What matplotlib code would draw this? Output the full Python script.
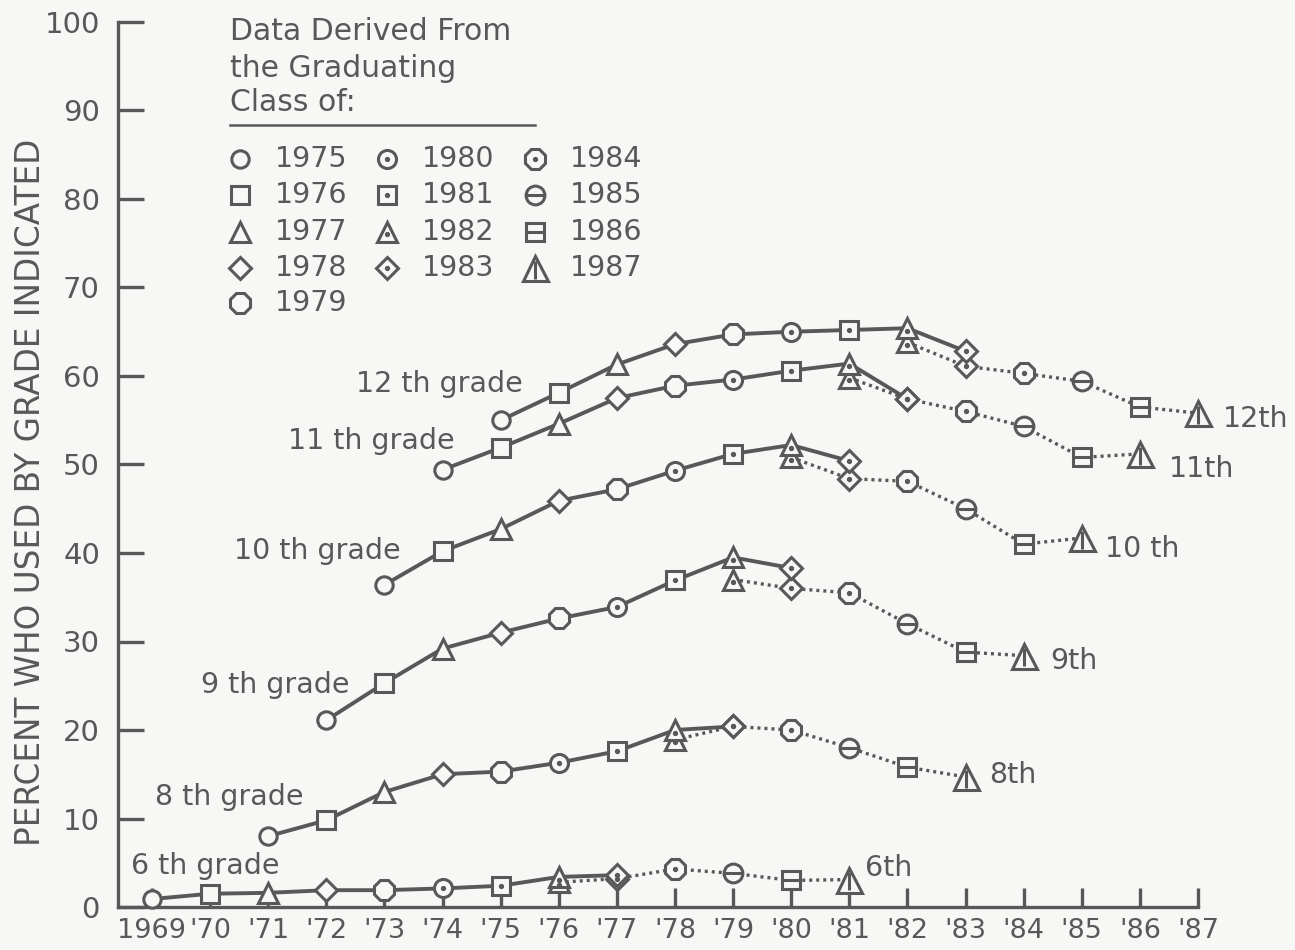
import matplotlib.pyplot as plt

# grade-by-year values; solid = earlier series, dotted = later series
years_12_solid = [1975, 1976, 1977, 1978, 1979, 1980, 1981, 1982, 1983]
grade_12_solid = [55.0, 58.1, 61.3, 63.6, 64.7, 65.0, 65.2, 65.4, 62.8]
years_12_dotted = [1982, 1983, 1984, 1985, 1986, 1987]
grade_12_dotted = [63.8, 61.1, 60.3, 59.4, 56.5, 55.8]

years_11_solid = [1974, 1975, 1976, 1977, 1978, 1979, 1980, 1981, 1982]
grade_11_solid = [49.4, 51.9, 54.6, 57.5, 58.9, 59.6, 60.6, 61.4, 57.4]
years_11_dotted = [1981, 1982, 1983, 1984, 1985, 1986]
grade_11_dotted = [59.8, 57.4, 56.0, 54.3, 50.8, 51.2]

years_10_solid = [1973, 1974, 1975, 1976, 1977, 1978, 1979, 1980, 1981]
grade_10_solid = [36.4, 40.2, 42.7, 45.9, 47.2, 49.3, 51.2, 52.2, 50.4]
years_10_dotted = [1980, 1981, 1982, 1983, 1984, 1985]
grade_10_dotted = [50.8, 48.4, 48.1, 45.0, 41.0, 41.7]

years_9_solid = [1972, 1973, 1974, 1975, 1976, 1977, 1978, 1979, 1980]
grade_9_solid = [21.1, 25.3, 29.2, 31.0, 32.6, 33.9, 36.9, 39.5, 38.3]
years_9_dotted = [1979, 1980, 1981, 1982, 1983, 1984]
grade_9_dotted = [37.0, 36.0, 35.5, 32.0, 28.8, 28.4]

years_8_solid = [1971, 1972, 1973, 1974, 1975, 1976, 1977, 1978, 1979]
grade_8_solid = [8.0, 9.8, 13.0, 15.0, 15.3, 16.3, 17.6, 20.0, 20.4]
years_8_dotted = [1978, 1979, 1980, 1981, 1982, 1983]
grade_8_dotted = [18.9, 20.4, 20.0, 18.0, 15.8, 14.7]

years_6_solid = [1969, 1970, 1971, 1972, 1973, 1974, 1975, 1976, 1977]
grade_6_solid = [0.9, 1.5, 1.6, 1.9, 1.9, 2.1, 2.4, 3.4, 3.6]
years_6_dotted = [1976, 1977, 1978, 1979, 1980, 1981]
grade_6_dotted = [2.8, 3.2, 4.3, 3.8, 3.0, 3.1]

classes = [1975, 1976, 1977, 1978, 1979, 1980, 1981, 1982, 1983,
           1984, 1985, 1986, 1987]

x_ticks = list(range(1969, 1988))
x_labels = ['1969', "'70", "'71", "'72", "'73", "'74", "'75", "'76", "'77",
            "'78", "'79", "'80", "'81", "'82", "'83", "'84", "'85", "'86", "'87"]

INK = '#585858'
BG = '#f7f7f5'

# marker shape, size, inner mark for each graduating class
styles = {
    1975: ('o', 12.5, None),
    1976: ('s', 12.5, None),
    1977: ('^', 15, None),
    1978: ('D', 11.5, None),
    1979: ('8', 16, None),
    1980: ('o', 13, 'dot'),
    1981: ('s', 12.5, 'dot'),
    1982: ('^', 15, 'dot'),
    1983: ('D', 11.5, 'dot'),
    1984: ('8', 16, 'dot'),
    1985: ('o', 13.5, 'hline'),
    1986: ('s', 13.5, 'hline'),
    1987: ('^', 18, 'vline'),
}

plt.rcParams['font.family'] = ['DejaVu Sans']

fig = plt.figure(figsize=(12.95, 9.5), dpi=100, facecolor=BG)
ax = fig.add_axes([118 / 1295, 43 / 950, 1080 / 1295, 885 / 950])
ax.set_facecolor(BG)


def draw_marker(x, y, cls):
    m, ms, inner = styles[cls]
    ax.plot([x], [y], marker=m, ms=ms, mfc=BG, mec=INK, mew=2.2,
            linestyle='none', zorder=4, clip_on=False)
    if inner == 'dot':
        ax.plot([x], [y - (0.3 if m == '^' else 0)], marker='o', ms=2.8,
                color=INK, linestyle='none', zorder=5, clip_on=False)
    elif inner == 'hline':
        ax.plot([x], [y], marker='_', ms=ms * 0.95, mew=2.2, color=INK,
                linestyle='none', zorder=5, clip_on=False)
    elif inner == 'vline':
        ax.plot([x], [y - 0.2], marker='|', ms=ms * 0.7, mew=2.2, color=INK,
                linestyle='none', zorder=5, clip_on=False)


series = [
    (12, years_12_solid, grade_12_solid, years_12_dotted, grade_12_dotted),
    (11, years_11_solid, grade_11_solid, years_11_dotted, grade_11_dotted),
    (10, years_10_solid, grade_10_solid, years_10_dotted, grade_10_dotted),
    (9, years_9_solid, grade_9_solid, years_9_dotted, grade_9_dotted),
    (8, years_8_solid, grade_8_solid, years_8_dotted, grade_8_dotted),
    (6, years_6_solid, grade_6_solid, years_6_dotted, grade_6_dotted),
]

for grade, xs, ys, xd, yd in series:
    ax.plot(xs, ys, color=INK, lw=2.8, zorder=3, solid_capstyle='round')
    ax.plot(xd, yd, color=INK, lw=2.4, linestyle=(0, (0.9, 1.2)),
            zorder=2, clip_on=False)
    for x, y in zip(xd, yd):
        draw_marker(x, y, x + 12 - grade)
    for x, y in zip(xs, ys):
        draw_marker(x, y, x + 12 - grade)

# grade labels
lab = dict(color=INK, fontsize=20.5, va='center')
ax.text(1975.38, 59.1, '12 th grade', ha='right', **lab)
ax.text(1974.2, 52.6, '11 th grade', ha='right', **lab)
ax.text(1973.27, 40.2, '10 th grade', ha='right', **lab)
ax.text(1972.4, 25.1, '9 th grade', ha='right', **lab)
ax.text(1971.6, 12.4, '8 th grade', ha='right', **lab)
ax.text(1971.2, 4.6, '6 th grade', ha='right', **lab)

ax.text(1987.43, 55.1, '12th', ha='left', **lab)
ax.text(1986.5, 49.5, '11th', ha='left', **lab)
ax.text(1985.4, 40.5, '10 th', ha='left', **lab)
ax.text(1984.45, 27.8, '9th', ha='left', **lab)
ax.text(1983.4, 14.9, '8th', ha='left', **lab)
ax.text(1981.27, 4.4, '6th', ha='left', **lab)

# legend block
head = dict(color=INK, fontsize=21.5, va='center', ha='left')
ax.text(1970.34, 98.9, 'Data Derived From', **head)
ax.text(1970.34, 94.8, 'the Graduating', **head)
ax.text(1970.34, 90.9, 'Class of:', **head)
ax.plot([1970.34, 1975.59], [88.4, 88.4], color=INK, lw=1.8)

leg = dict(color=INK, fontsize=20.5, va='center', ha='left')
col_x = [1970.51, 1973.04, 1975.59]
row_y = [84.55, 80.5, 76.3, 72.2, 68.2]
for i, cls in enumerate(classes):
    col = 0 if i < 5 else (1 if i < 9 else 2)
    row = i if i < 5 else (i - 5 if i < 9 else i - 9)
    draw_marker(col_x[col], row_y[row], cls)
    ax.text(col_x[col] + 0.6, row_y[row], str(cls), **leg)

ax.set_xlim(1968.415, 1987)
ax.set_ylim(0, 100)
ax.set_xticks(x_ticks)
ax.set_xticklabels(x_labels)
ax.set_yticks(range(0, 101, 10))

for side in ['top', 'right']:
    ax.spines[side].set_visible(False)
for side in ['left', 'bottom']:
    ax.spines[side].set_color(INK)
    ax.spines[side].set_linewidth(2.4)

ax.tick_params(axis='y', direction='in', length=19, width=2.4, pad=13,
               colors=INK, labelsize=21)
ax.tick_params(axis='x', direction='in', length=14, width=2.4, pad=8,
               colors=INK, labelsize=19.5)

fig.text(31 / 1295, 1 - 492 / 950, 'PERCENT WHO USED BY GRADE INDICATED',
         rotation=90, ha='center', va='center', color=INK, fontsize=23.5)

fig.savefig('out.png', dpi=100, facecolor=BG)
